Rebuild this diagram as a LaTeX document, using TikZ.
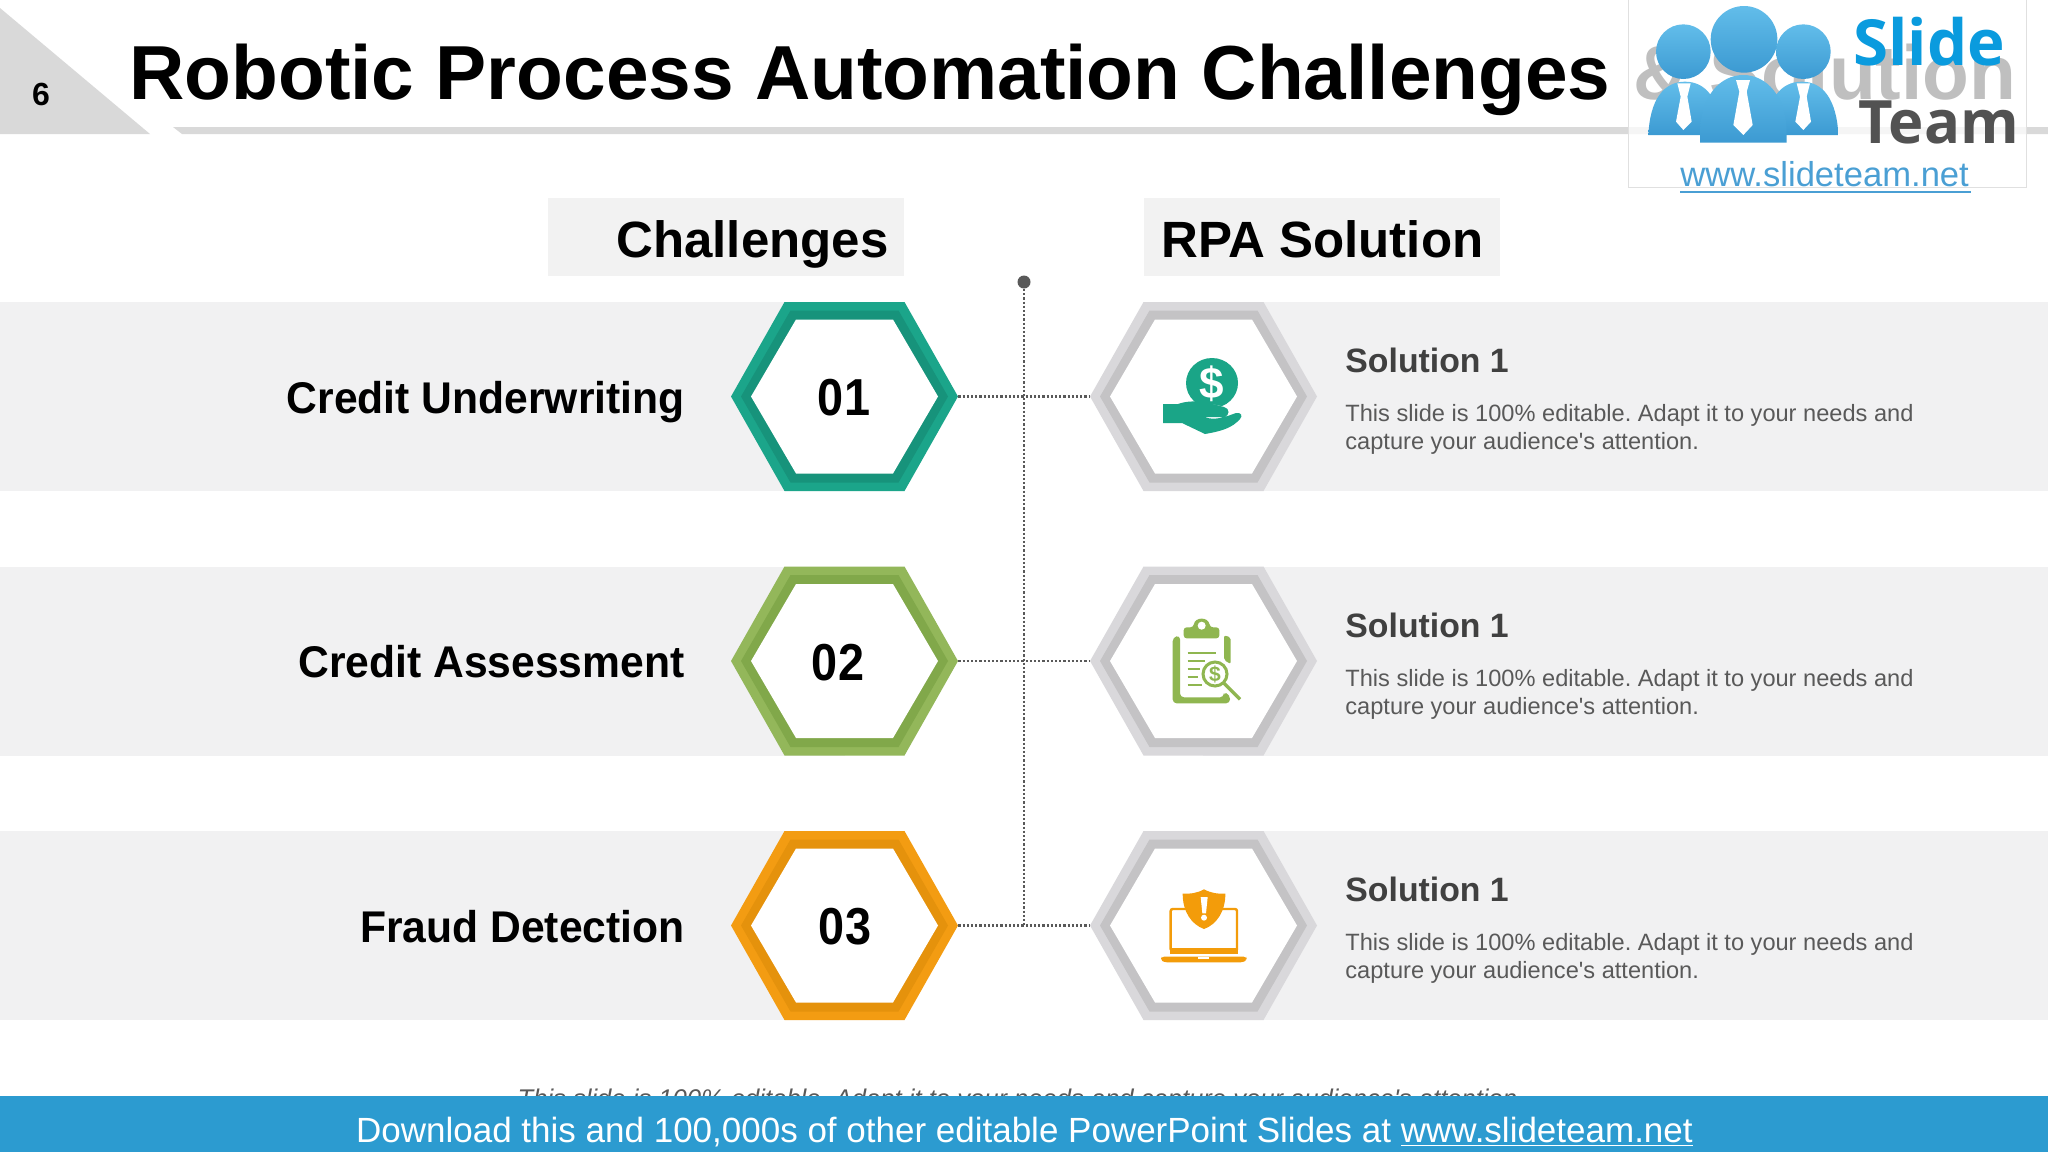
\documentclass[tikz,border=0pt]{standalone}
\usepackage{fontspec}
\setmainfont{Liberation Sans}
\newfontfamily\logofont{Open Sans}
\newfontfamily\labelfont[FakeStretch=0.96]{Liberation Sans}
\newfontfamily\numfont[FakeStretch=0.9]{Liberation Sans}
\AtBeginDocument{\frenchspacing}
\definecolor{bandgrey}{HTML}{F1F1F2}
\definecolor{headbox}{HTML}{F2F2F2}
\definecolor{rulegrey}{HTML}{D9D9D9}
\definecolor{tealA}{HTML}{1BA58A}
\definecolor{tealB}{HTML}{17937B}
\definecolor{greenA}{HTML}{93B75A}
\definecolor{greenB}{HTML}{81A84A}
\definecolor{orangeA}{HTML}{F39C12}
\definecolor{orangeB}{HTML}{E5920C}
\definecolor{greyA}{HTML}{D9D8DB}
\definecolor{greyB}{HTML}{C4C3C5}
\definecolor{iconteal}{HTML}{1AA587}
\definecolor{icongreen}{HTML}{8FB650}
\definecolor{iconorange}{HTML}{F39C0A}
\definecolor{footblue}{HTML}{2C9BD0}
\definecolor{dotgrey}{HTML}{595959}
\definecolor{logoA}{HTML}{62BDEA}
\definecolor{logoB}{HTML}{3C9AD2}
\definecolor{logourlc}{HTML}{4A9FD4}
\definecolor{logoslidec}{HTML}{0A9BDE}
\tikzset{
  hexnode/.style={rectangle,minimum width=113.5pt,minimum height=94.5pt,inner sep=0pt},
  bandbar/.style={fill=bandgrey},
  headerbox/.style={fill=headbox,minimum width=178pt,minimum height=39pt,inner sep=0pt},
  headertext/.style={anchor=base west,inner sep=0pt,font=\fontsize{25.5}{30}\selectfont\bfseries,text=black},
  rowlabel/.style={anchor=base east,inner sep=0pt,font=\labelfont\fontsize{22.2}{26}\selectfont\bfseries,text=black},
  numlabel/.style={anchor=base,inner sep=0pt,font=\numfont\fontsize{26}{28}\selectfont\bfseries,text=black},
  soltitle/.style={anchor=base west,inner sep=0pt,font=\fontsize{16.9}{20}\selectfont\bfseries,text=black!75},
  soltext/.style={anchor=base west,inner sep=0pt,font=\fontsize{11.8}{14}\selectfont,text=dotgrey},
  dotline/.style={draw=dotgrey,line width=1.1pt,dash pattern=on 1.1pt off 1pt},
}
\newcommand{\hexat}[4]{%
  \fill[#3] ({#1-113.5},#2)--({#1-60},{#2-94.5})--({#1+60},{#2-94.5})--({#1+113.5},#2)--({#1+60},{#2+94.5})--({#1-60},{#2+94.5})--cycle;
  \fill[#4] ({#1-103.5},#2)--({#1-54},{#2-86})--({#1+54},{#2-86})--({#1+103.5},#2)--({#1+54},{#2+86})--({#1-54},{#2+86})--cycle;
  \fill[white] ({#1-93.5},#2)--({#1-48.5},{#2-77})--({#1+48.5},{#2-77})--({#1+93.5},#2)--({#1+48.5},{#2+77})--({#1-48.5},{#2+77})--cycle;
}
\begin{document}
\begin{tikzpicture}[x=0.5pt,y=-0.5pt]
\useasboundingbox (0,0) rectangle (2048,1152);
\fill[white] (0,0) rectangle (2048,1152);
% header
\fill[rulegrey] (0,8)--(150,134)--(0,134)--cycle;
\fill[rulegrey] (173,127)--(2048,127)--(2048,134)--(182,134)--cycle;
\node[anchor=base,inner sep=0pt,font=\fontsize{16}{20}\selectfont\bfseries] (pagenum) at (41,105) {6};
\node[anchor=base west,inner sep=0pt,font=\fontsize{38.3}{42}\selectfont\bfseries] (title) at (129,99) {Robotic Process Automation Challenges};
\node[anchor=base west,inner sep=0pt,font=\fontsize{38.3}{42}\selectfont\bfseries,text=black] (titlemore) at (1633,99) {\& Solution};
% logo
\fill[white,opacity=.75] (1628,0) rectangle (2026,187);
\draw[black!12,line width=.5pt] (1628,0)--(1628,187)--(2026,187)--(2026,0);
\begin{scope}[shift={(1600,0)},x=0.16667pt,y=-0.16667pt]
  \shade[top color=logoA,bottom color=logoB] (250,155) circle [x radius=82,y radius=82];
  \shade[top color=logoA,bottom color=logoB] (610,155) circle [x radius=82,y radius=82];
  \shade[top color=logoA,bottom color=logoB] (145,405) .. controls (150,300) and (190,245) .. (255,245) .. controls (320,245) and (360,300) .. (365,405) -- cycle;
  \shade[top color=logoA,bottom color=logoB] (715,405) .. controls (710,300) and (670,245) .. (605,245) .. controls (540,245) and (500,300) .. (495,405) -- cycle;
  \fill[white] (232,250)--(272,250)--(262,290)--(275,365)--(250,390)--(228,365)--(242,290)--cycle;
  \fill[white] (590,250)--(630,250)--(620,290)--(633,365)--(610,390)--(586,365)--(600,290)--cycle;
  \shade[top color=logoA,bottom color=logoB] (432,118) circle [x radius=100,y radius=100];
  \shade[top color=logoA,bottom color=logoB] (300,428) -- (300,400) .. controls (300,290) and (360,225) .. (430,225) .. controls (500,225) and (560,290) .. (560,400) -- (560,428) -- cycle;
  \fill[white] (408,240)--(450,240)--(440,275)--(458,375)--(430,405)--(400,375)--(418,275)--cycle;
\end{scope}
\node[anchor=base west,inner sep=0pt,font=\logofont\fontsize{31.8}{34}\selectfont\bfseries,text=logoslidec] (logoslide) at (1853,65) {Slide};
\node[anchor=base west,inner sep=0pt,font=\logofont\fontsize{29.9}{32}\selectfont\bfseries,text=black!68] (logoteam) at (1858,143) {Team};
\node[anchor=base west,inner sep=0pt,font=\fontsize{17.3}{20}\selectfont,text=logourlc] (logourl) at (1680,186) {www.slideteam.net};
\draw[logourlc,line width=1pt] (1680,192) -- (1971,192);
% column headers
\node[headerbox] (hchal) at (726,237) {};
\node[headerbox] (hrpa) at (1322,237) {};
\node[headertext] (tchal) at (616,257) {Challenges};
\node[headertext] (trpa) at (1161,257) {RPA Solution};
% bands
\fill[bandbar] (0,302) rectangle (845,491);
\fill[bandbar] (0,566.5) rectangle (845,755.5);
\fill[bandbar] (0,831) rectangle (845,1020);
\fill[bandbar] (1203,302) rectangle (2048,491);
\fill[bandbar] (1203,566.5) rectangle (2048,755.5);
\fill[bandbar] (1203,831) rectangle (2048,1020);
% hexagons
\hexat{844.5}{396.5}{tealA}{tealB}
\hexat{844.5}{661}{greenA}{greenB}
\hexat{844.5}{925.5}{orangeA}{orangeB}
\hexat{1203.5}{396.5}{greyA}{greyB}
\hexat{1203.5}{661}{greyA}{greyB}
\hexat{1203.5}{925.5}{greyA}{greyB}
\node[hexnode] (c1) at (844.5,396.5) {};
\node[hexnode] (c2) at (844.5,661) {};
\node[hexnode] (c3) at (844.5,925.5) {};
\node[hexnode] (s1) at (1203.5,396.5) {};
\node[hexnode] (s2) at (1203.5,661) {};
\node[hexnode] (s3) at (1203.5,925.5) {};
\node[numlabel] (n1) at (844,415) {01};
\node[numlabel] (n2) at (838,680) {02};
\node[numlabel] (n3) at (845,944) {03};
% connectors
\node[circle,fill=dotgrey,minimum size=6.5pt,inner sep=0pt] (topdot) at (1024,282) {};
\coordinate (trunkend) at (1024,925.5);
\draw[dotline] (topdot) -- (trunkend);
\draw[dotline] (c1.east) -- (s1.west);
\draw[dotline] (c2.east) -- (s2.west);
\draw[dotline] (c3.east) -- (s3.west);
% labels
\node[rowlabel] (l1) at (685,413) {Credit Underwriting};
\node[rowlabel] (l2) at (685,677) {Credit Assessment};
\node[rowlabel] (l3) at (685,942) {Fraud Detection};
\node[soltitle] (st1) at (1345,372) {Solution 1};
\node[soltitle] (st2) at (1345,637) {Solution 1};
\node[soltitle] (st3) at (1345,901) {Solution 1};
\node[soltext] (sa1) at (1345,421) {This slide is 100\% editable. Adapt it to your needs and};
\node[soltext] (sb1) at (1345,449.5) {capture your audience\textquotesingle s attention.};
\node[soltext] (sa2) at (1345,686) {This slide is 100\% editable. Adapt it to your needs and};
\node[soltext] (sb2) at (1345,714.5) {capture your audience\textquotesingle s attention.};
\node[soltext] (sa3) at (1345,950) {This slide is 100\% editable. Adapt it to your needs and};
\node[soltext] (sb3) at (1345,978.5) {capture your audience\textquotesingle s attention.};
% icon 1: hand and coin
\fill[iconteal] (1212,383) circle [x radius=26,y radius=25];
\node[inner sep=0pt,text=white,font=\fontsize{22}{24}\selectfont\bfseries] (dollarA) at (1212,384) {\$};
\fill[white] (1180,408) .. controls (1195,400) and (1215,404) .. (1232,409) -- (1232,420) -- (1200,420) -- cycle;
\fill[iconteal] (1163,404) -- (1178,404) .. controls (1195,398) and (1212,404) .. (1224,407) .. controls (1230,408) and (1230,416) .. (1224,417) -- (1204,417) .. controls (1215,421) and (1225,417) .. (1236,413) .. controls (1241,412) and (1243,416) .. (1240,419) .. controls (1232,428) and (1222,431) .. (1205,434) -- (1182,423) -- (1163,423) -- cycle;
% icon 2: clipboard
\begin{scope}[shift={(1090,560)},x=0.16667pt,y=-0.16667pt]
  \fill[icongreen,rounded corners=2pt] (270,226) -- (248,232) -- (248,430) -- (420,430) -- (420,405) -- (400,395) -- (402,412) -- (270,412) -- cycle;
  \fill[icongreen,rounded corners=1pt] (402,226) -- (422,232) -- (422,312) -- (402,300) -- cycle;
  \fill[icongreen,rounded corners=1.5pt] (281,235) -- (281,202) -- (310,202) .. controls (315,170) and (355,170) .. (360,202) -- (388,202) -- (388,235) -- cycle;
  \fill[white] (335,197) circle [radius=12];
  \draw[icongreen,line width=1.1pt] (293,278)--(378,278) (293,302)--(345,302) (293,326)--(330,326) (293,350)--(325,350) (293,374)--(335,374);
  \fill[white] (375,342) circle [radius=42];
  \draw[icongreen,line width=1.5pt] (375,342) circle [radius=36];
  \draw[icongreen,line width=1.7pt] (402,370) -- (450,418);
  \node[inner sep=0pt,text=icongreen,font=\fontsize{10.5}{12}\selectfont\bfseries] (dollarB) at (375,342) {\$};
\end{scope}
% icon 3: laptop and shield
\begin{scope}[shift={(1090,825)},x=0.16667pt,y=-0.16667pt]
  \draw[iconorange,line width=1.2pt,rounded corners=1pt] (300,252) -- (242,252) -- (242,378) -- (441,378) -- (441,252) -- (385,252);
  \fill[iconorange] (240,370) rectangle (444,386);
  \fill[iconorange,rounded corners=1.5pt] (213,395) -- (470,395) -- (470,404) -- (460,412) -- (222,412) -- (213,404) -- cycle;
  \fill[white] (323,395) -- (358,395) -- (358,403) -- (323,403) -- cycle;
  \fill[iconorange] (342,193) .. controls (365,205) and (385,207) .. (406,206) .. controls (406,260) and (380,298) .. (342,312) .. controls (304,298) and (278,260) .. (278,206) .. controls (299,207) and (320,205) .. (342,193) -- cycle;
  \fill[white] (332,216) -- (353,216) -- (348,265) -- (337,265) -- cycle;
  \fill[white] (342,278) circle [radius=9];
\end{scope}
% cut-off caption and footer
\node[anchor=base,inner sep=0pt,font=\fontsize{12.8}{16}\selectfont\itshape,text=dotgrey] (caption) at (1021,1107) {This slide is 100\% editable. Adapt it to your needs and capture your audience\textquotesingle s attention.};
\fill[footblue] (0,1096) rectangle (2048,1152);
\node[anchor=base,inner sep=0pt,font=\fontsize{17.5}{20}\selectfont,text=white] (foot) at (1024.5,1142) {Download this and 100,000s of other editable PowerPoint Slides at \underline{www.slideteam.net}};
\end{tikzpicture}
\end{document}
